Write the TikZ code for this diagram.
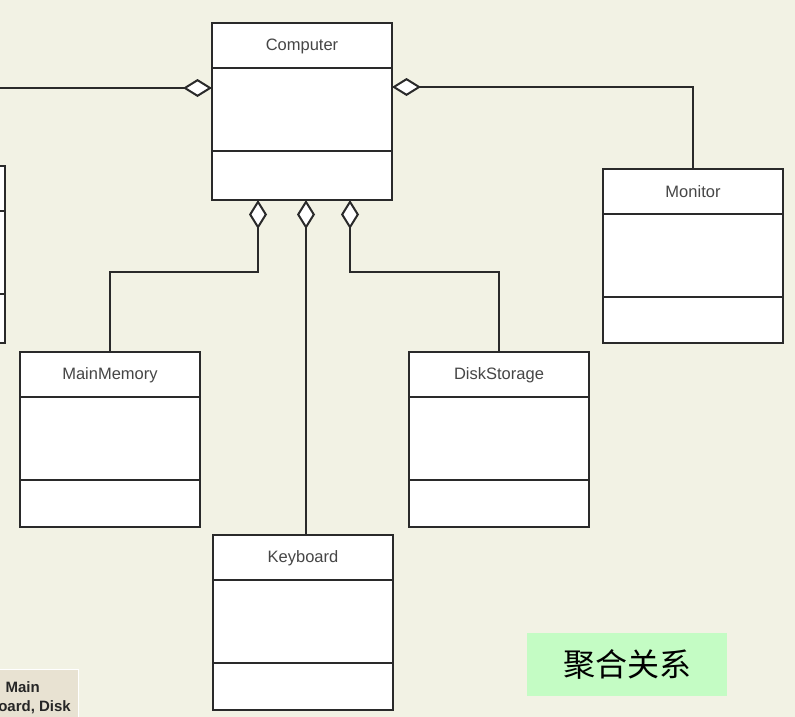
\documentclass[tikz,border=0pt]{standalone}
\usepackage{fontspec}
\setmainfont{Liberation Sans}
\newfontfamily\cjk{Noto Sans CJK SC}
\usetikzlibrary{arrows.meta,calc}
\definecolor{bg}{RGB}{242,242,228}
\definecolor{ln}{RGB}{42,42,42}
\definecolor{lbl}{RGB}{196,252,196}
\definecolor{notefill}{RGB}{232,226,210}
\definecolor{txt}{RGB}{70,70,70}
\newcommand{\umlclass}[5]{%
  \node[classbox, minimum height=#4pt] (#1) at (#2,#3) {};
  \draw[divider] ($(#1.north west)+(0,45)$) -- ($(#1.north east)+(0,45)$);
  \draw[divider] ($(#1.north west)+(0,128)$) -- ($(#1.north east)+(0,128)$);
  \node[cname] (#1-name) at ($(#1.north)+(0,23)$) {#5};
}
\begin{document}
\begin{tikzpicture}[x=1pt,y=-1pt,
  classbox/.style={draw=ln, line width=2pt, fill=white, minimum width=180pt, inner sep=0pt, outer sep=0pt},
  divider/.style={draw=ln, line width=2pt},
  cname/.style={font=\fontsize{16.5}{19}\selectfont, text=txt, inner sep=0pt},
  agg/.style={draw=ln, line width=2pt, -{Diamond[fill=white,length=29pt,width=18pt]}},
  notetext/.style={font=\bfseries\fontsize{15}{18}\selectfont, text=black!85, inner sep=0pt, anchor=base east}
]
\useasboundingbox (0,0) rectangle (795,717);
\fill[bg] (0,0) rectangle (795,717);
\clip (0,0) rectangle (795,717);

\umlclass{other}{-85}{254.5}{177}{}
\umlclass{computer}{302}{111.5}{177}{Computer}
\umlclass{monitor}{693}{256}{174}{Monitor}
\umlclass{mainmemory}{110}{439.5}{175}{MainMemory}
\umlclass{diskstorage}{499}{439.5}{175}{DiskStorage}
\umlclass{keyboard}{303}{622.5}{175}{Keyboard}

\coordinate (cL) at ($(computer.north west)+(0,65)$);
\coordinate (cR) at ($(computer.north east)+(0,64)$);
\coordinate (leftend) at (-10,88);
\coordinate (cB1) at ($(computer.south west)+(46,0)$);
\coordinate (cB2) at ($(computer.south west)+(94,0)$);
\coordinate (cB3) at ($(computer.south west)+(138,0)$);

\draw[agg] (leftend) -- (cL);
\draw[agg] (monitor.north) |- (cR);
\draw[agg] (mainmemory.north) |- ($(cB1)+(0,72)$) -- (cB1);
\draw[agg] (diskstorage.north) |- ($(cB3)+(0,72)$) -- (cB3);
\draw[agg] (keyboard.north -| cB2) -- (cB2);

\node[fill=lbl, minimum width=200pt, minimum height=63pt, inner sep=0pt,
      font=\cjk\fontsize{32}{38}\selectfont] (rel) at (627,664.5) {聚合关系};

\node[fill=notefill, draw=white, line width=1pt, minimum width=89pt, minimum height=60pt,
      inner sep=0pt, anchor=north east] (note) at (79,669) {};
\node[notetext] (note1) at ($(note.north east)+(-39,23)$) {Main};
\node[notetext] (note2) at ($(note.north east)+(-8,42)$) {oard, Disk};
\end{tikzpicture}
\end{document}
